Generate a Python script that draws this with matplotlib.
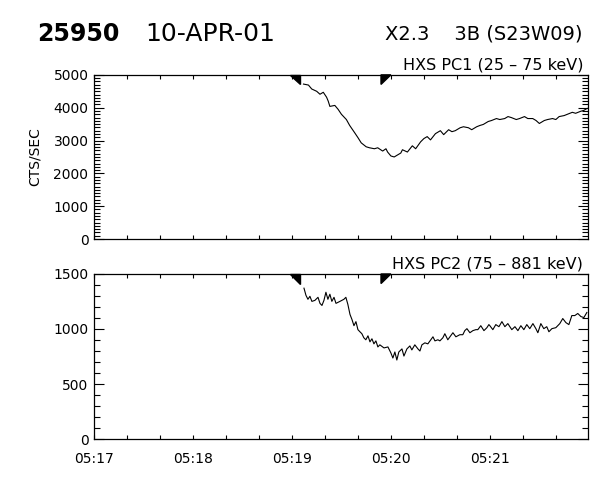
import numpy as np
import matplotlib.pyplot as plt
from matplotlib.ticker import MultipleLocator, FuncFormatter
from matplotlib.transforms import blended_transform_factory

# seconds after 05:17:00
t1 = [127, 130, 132, 135, 137, 139, 141, 142, 143, 146, 148, 150, 153, 155, 158, 160,
      162, 165, 167, 170, 172, 175, 177, 178, 180, 182, 186, 187, 190, 193, 195, 198,
      200, 202, 204, 207, 210, 212, 215, 217, 219, 222, 224, 227, 229, 232, 234, 236,
      239, 241, 244, 246, 249, 251, 253, 256, 258, 261, 263, 266, 268, 270, 273, 275,
      278, 280, 282, 285, 287, 290, 292, 295, 297, 299]
c1 = [4720, 4690, 4570, 4500, 4410, 4470, 4320, 4200, 4040, 4070, 3950, 3800, 3640, 3460,
      3240, 3090, 2930, 2810, 2780, 2750, 2780, 2680, 2750, 2650, 2530, 2500, 2620, 2720,
      2650, 2840, 2750, 2960, 3060, 3120, 3020, 3210, 3300, 3180, 3330, 3270, 3300, 3390,
      3420, 3390, 3330, 3420, 3460, 3490, 3580, 3610, 3670, 3640, 3670, 3730, 3700, 3640,
      3670, 3730, 3670, 3670, 3610, 3520, 3610, 3640, 3670, 3640, 3730, 3760, 3800, 3860,
      3830, 3890, 3920, 3980]

t2 = [127.3, 128.5, 129.7, 130.9, 132.1, 133.9, 135.8, 137.0, 138.2, 139.4, 140.6, 141.8,
      143.0, 144.2, 145.5, 146.7, 149.1, 151.5, 152.7, 153.9, 155.2, 156.4, 157.6, 158.8,
      160.0, 161.2, 162.4, 163.6, 164.8, 166.1, 167.3, 168.5, 169.7, 170.9, 172.1, 173.3,
      175.8, 178.2, 180.0, 181.2, 182.4, 183.6, 184.8, 186.7, 187.9, 189.7, 191.5, 192.7,
      194.5, 196.4, 197.6, 198.8, 200.6, 202.4, 204.2, 205.5, 206.7, 208.5, 209.7, 211.5,
      212.7, 214.5, 215.8, 217.6, 219.4, 221.8, 223.6, 224.8, 226.1, 227.9, 229.7, 231.5,
      232.7, 234.5, 236.4, 238.2, 239.4, 240.0, 241.8, 243.6, 245.5, 247.3, 249.1, 250.9,
      253.3, 255.2, 257.0, 258.8, 260.6, 262.4, 264.2, 266.1, 267.9, 269.1, 270.9, 272.7,
      274.5, 275.8, 277.6, 280.0, 282.4, 284.2, 286.1, 287.9, 289.7, 291.5, 293.3, 295.2,
      297.0, 298.8]
c2 = [1371, 1306, 1270, 1297, 1251, 1260, 1288, 1233, 1214, 1260, 1334, 1270, 1316, 1251,
      1288, 1233, 1251, 1270, 1288, 1224, 1132, 1086, 1030, 1067, 994, 975, 957, 920, 902,
      938, 883, 911, 865, 892, 837, 856, 828, 837, 782, 736, 791, 718, 791, 819, 754, 819,
      846, 810, 856, 819, 800, 856, 874, 865, 902, 929, 892, 902, 892, 920, 957, 902, 929,
      966, 929, 948, 948, 985, 1003, 966, 985, 994, 994, 1030, 985, 1012, 1040, 1030, 994,
      1040, 1021, 1067, 1021, 1049, 994, 1021, 985, 1030, 994, 1040, 1003, 1049, 1003, 966,
      1049, 1003, 1021, 975, 1003, 1012, 1049, 1095, 1058, 1040, 1122, 1122, 1141, 1113,
      1104, 1150]

marks = [125, 174]
x_labels = ['05:17', '05:18', '05:19', '05:20', '05:21']

fig = plt.figure(figsize=(6, 4.8), dpi=100)
ax1 = fig.add_axes([0.1567, 0.502, 0.8233, 0.342])
ax2 = fig.add_axes([0.1567, 0.0854, 0.8233, 0.3438])

def fmt(v, pos):
    i = int(round(v / 60))
    return x_labels[i] if 0 <= i < len(x_labels) else ''

for ax, t, c, top, minor, label in [(ax1, t1, c1, 5000, 100, 'HXS PC1 (25 \u2013 75 keV)'),
                                     (ax2, t2, c2, 1500, 100, 'HXS PC2 (75 \u2013 881 keV)')]:
    ax.plot(t, c, color='black', lw=0.8)
    ax.set_xlim(0, 299.5)
    ax.set_ylim(0, top)
    ax.xaxis.set_major_locator(MultipleLocator(60))
    ax.xaxis.set_minor_locator(MultipleLocator(20))
    ax.xaxis.set_major_formatter(FuncFormatter(fmt))
    ax.yaxis.set_major_locator(MultipleLocator(1000 if top == 5000 else 500))
    ax.yaxis.set_minor_locator(MultipleLocator(minor))
    ax.tick_params(axis='x', which='both', direction='in', top=True, length=3, width=0.8,
                   labelsize=10, pad=9)
    ax.tick_params(axis='y', which='major', direction='in', right=True, length=7.5, width=0.8,
                   labelsize=10, pad=4)
    ax.tick_params(axis='y', which='minor', direction='in', right=True, length=4, width=0.8)
    for s in ax.spines.values():
        s.set_linewidth(0.9)
    ax.text(0.99, 1.015, label, transform=ax.transAxes, ha='right', va='bottom', fontsize=11.5)
    tr = blended_transform_factory(ax.transData, ax.transAxes)
    h = 0.058
    ax.fill([marks[0] - 6, marks[0], marks[0]], [1, 1, 1 - h], color='black', transform=tr,
            clip_on=False)
    ax.fill([marks[1], marks[1] + 6, marks[1]], [1, 1, 1 - h], color='black', transform=tr,
            clip_on=False)

ax1.tick_params(axis='x', labelbottom=False)
ax1.set_ylabel('CTS/SEC', fontsize=10, labelpad=8)

fig.text(0.062, 0.9146, '25950', fontsize=17, fontweight='bold', va='baseline')
fig.text(0.2417, 0.9146, '10-APR-01', fontsize=18, va='baseline')
fig.text(0.6417, 0.9167, 'X2.3    3B (S23W09)', fontsize=14, va='baseline')

fig.savefig('out.png', dpi=100)
